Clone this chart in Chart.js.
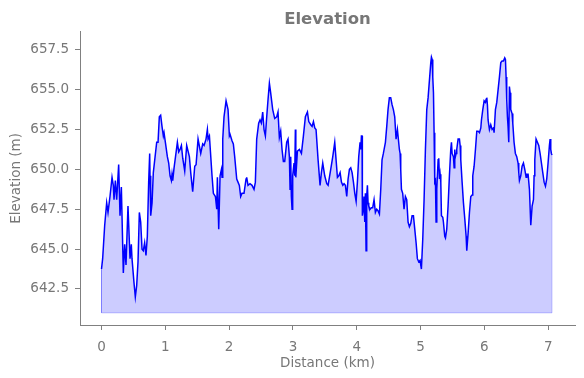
<!DOCTYPE html>
<html>
<head>
<meta charset="utf-8">
<script src="https://cdn.jsdelivr.net/npm/chart.js@4"></script>
<style>
  html, body { margin: 0; padding: 0; background: #fff; }
  #wrap { width: 584px; height: 378px; }
</style>
</head>
<body>
<div id="wrap"><canvas id="chart-elev" width="584" height="378"></canvas></div>
<script>
const DISTANCE_KM = [
  0.000, 0.018, 0.050, 0.081, 0.102, 0.133, 0.165, 0.185, 0.196, 0.217, 0.238, 0.269, 0.290, 0.311, 0.342, 0.363,
  0.384, 0.415, 0.447, 0.467, 0.478, 0.509, 0.530, 0.551, 0.572, 0.593, 0.614, 0.635, 0.655, 0.676, 0.697, 0.718,
  0.739, 0.755, 0.760, 0.771, 0.792, 0.812, 0.865, 0.886, 0.906, 0.927, 0.948, 0.969,
  0.980, 1.001, 1.032, 1.053, 1.074, 1.095, 1.105, 1.116, 1.137, 1.189, 1.210, 1.231, 1.252, 1.273, 1.304, 1.335,
  1.377, 1.398, 1.429, 1.461, 1.482, 1.513, 1.555, 1.586, 1.607, 1.638, 1.659, 1.670, 1.691, 1.732, 1.753, 1.785,
  1.806, 1.816, 1.826, 1.837, 1.858, 1.879, 1.889, 1.900, 1.920, 1.952, 1.983, 2.004,
  2.014, 2.045, 2.066, 2.087, 2.119, 2.139, 2.160, 2.181, 2.202, 2.233, 2.265, 2.275, 2.296, 2.327, 2.359, 2.390,
  2.411, 2.432, 2.463, 2.484, 2.505, 2.526, 2.547, 2.568, 2.589, 2.610, 2.631, 2.651, 2.683, 2.714, 2.746, 2.766,
  2.787, 2.808, 2.829, 2.850, 2.871, 2.902, 2.923, 2.944, 2.955, 2.965, 2.975, 2.986, 2.996, 3.017, 3.028, 3.038,
  3.045, 3.070, 3.101, 3.133, 3.164, 3.195, 3.227, 3.248, 3.279, 3.300, 3.321, 3.342, 3.362, 3.394, 3.425, 3.446,
  3.467, 3.498, 3.530, 3.551, 3.592, 3.624, 3.655, 3.676, 3.697, 3.718, 3.739, 3.760, 3.781, 3.801, 3.822, 3.843,
  3.864, 3.885, 3.906, 3.927, 3.948, 3.969, 3.990, 4.010, 4.031, 4.052, 4.063, 4.073,
  4.083, 4.088, 4.104, 4.114, 4.125, 4.135, 4.146, 4.156, 4.167, 4.177, 4.188, 4.208, 4.229, 4.250, 4.271, 4.292,
  4.313, 4.334, 4.355, 4.376, 4.396, 4.417, 4.449, 4.470, 4.490, 4.511, 4.532, 4.553, 4.574, 4.595, 4.616, 4.637,
  4.647, 4.668, 4.679, 4.689, 4.700, 4.720, 4.741, 4.762, 4.783, 4.804, 4.825, 4.846, 4.867, 4.888, 4.909, 4.930,
  4.950, 4.971, 4.992, 5.013, 5.034, 5.055, 5.076, 5.097,
  5.118, 5.139, 5.160, 5.170, 5.181, 5.191, 5.202, 5.212, 5.222, 5.233, 5.243, 5.254, 5.275, 5.285, 5.296, 5.306,
  5.317, 5.327, 5.348, 5.358, 5.379, 5.390, 5.410, 5.431, 5.452, 5.473, 5.484, 5.494, 5.515, 5.526, 5.536, 5.546,
  5.557, 5.567, 5.588, 5.609, 5.620, 5.630, 5.651, 5.672, 5.693, 5.714, 5.724, 5.745, 5.766, 5.787, 5.808, 5.818,
  5.839, 5.860, 5.881, 5.902, 5.923, 5.944, 5.954, 5.975, 5.996, 6.017, 6.027, 6.038, 6.048, 6.058, 6.079, 6.100,
  6.121, 6.142,
  6.152, 6.173, 6.194, 6.215, 6.236, 6.257, 6.277, 6.298, 6.319, 6.330, 6.340, 6.350, 6.361, 6.371, 6.382, 6.392,
  6.403, 6.413, 6.434, 6.445, 6.465, 6.486, 6.507, 6.528, 6.539, 6.549, 6.570, 6.591, 6.612, 6.633, 6.654, 6.664,
  6.685, 6.706, 6.727, 6.748, 6.769, 6.779, 6.790, 6.810, 6.831, 6.852, 6.873, 6.894, 6.915, 6.936, 6.957, 6.977,
  6.998, 7.019, 7.030, 7.040, 7.050, 7.060
];

const ELEVATION_M = [
  643.75, 644.4, 646.5, 647.9, 647.3, 648.3, 649.5, 649.0, 648.1, 649.3, 648.1, 650.3, 647.1, 648.9, 643.5, 645.3,
  644.0, 647.7, 644.4, 645.3, 644.4, 642.9, 642.0, 642.7, 644.2, 647.3, 646.7, 645.0, 644.9, 645.4, 644.6, 645.8,
  649.2, 651.0, 649.6, 647.1, 647.9, 649.8, 651.7, 651.7, 653.3, 653.4, 652.7, 652.1,
  652.3, 651.7, 650.8, 650.4, 649.6, 649.3, 649.7, 649.3, 650.1, 651.7, 651.1, 651.25, 651.5, 650.7, 649.9, 651.5,
  650.8, 649.8, 648.6, 650.2, 650.3, 651.9, 651.0, 651.6, 651.5, 651.9, 652.5, 651.9, 652.1, 649.6, 648.5, 648.3,
  647.5, 649.5, 647.9, 646.25, 649.6, 650.0, 649.5, 651.9, 653.3, 654.3, 653.75, 652.1,
  652.2, 651.8, 651.6, 650.8, 649.4, 649.2, 649.0, 648.3, 648.5, 648.5, 649.4, 649.5, 649.0, 649.1, 649.0, 648.75,
  649.2, 651.9, 652.9, 653.1, 652.9, 653.6, 652.5, 652.1, 653.3, 654.4, 655.4, 654.8, 653.75, 653.2, 653.3, 653.6,
  652.0, 652.4, 651.25, 650.5, 650.5, 651.7, 651.9, 650.8, 648.75, 650.8, 648.3, 647.5, 649.6, 650.4, 649.6, 652.5,
  649.5, 651.15, 651.25, 651.0, 652.1, 653.3, 653.6, 653.0, 652.8, 652.7, 653.0, 652.6, 652.5, 650.6, 649.0, 649.8,
  650.4, 649.6, 649.1, 649.0, 650.0, 650.8, 651.7, 650.6, 649.5, 649.6, 649.8, 649.2, 649.0, 649.1, 649.0, 648.3,
  649.4, 650.0, 650.1, 649.8, 649.2, 648.5, 648.0, 649.2, 650.8, 651.7, 651.25, 652.1,
  652.1, 647.1, 647.5, 648.3, 646.7, 648.5, 644.9, 648.3, 649.0, 647.9, 647.7, 647.5, 647.6, 647.6, 648.1, 647.3,
  647.5, 647.4, 647.2, 648.75, 650.6, 651.0, 651.7, 652.7, 653.75, 654.5, 654.5, 654.06, 653.75, 653.3, 651.9, 652.5,
  652.1, 651.25, 651.0, 650.0, 648.75, 648.5, 647.5, 648.3, 648.1, 646.7, 646.4, 646.6, 647.1, 647.1, 646.25, 645.4,
  644.4, 644.2, 644.3, 643.75, 645.6, 648.1, 651.25, 653.75,
  654.5, 655.6, 656.7, 657.04, 656.9, 655.8, 654.8, 652.3, 649.2, 649.3, 646.7, 648.75, 650.6, 650.7, 649.4, 649.7,
  649.2, 647.1, 647.0, 646.7, 645.8, 645.7, 646.25, 647.7, 649.6, 651.25, 651.7, 651.0, 650.8, 650.1, 651.25, 650.8,
  651.0, 651.25, 651.9, 651.9, 651.5, 650.6, 649.2, 647.9, 646.9, 645.8, 644.9, 646.0, 647.3, 648.3, 648.4, 649.6,
  650.2, 651.25, 652.4, 652.4, 652.3, 652.6, 653.1, 653.75, 654.3, 654.2, 654.4, 654.5, 654.0, 653.1, 652.5, 652.8,
  652.5, 652.6,
  652.3, 653.75, 654.2, 655.0, 655.8, 656.7, 656.8, 656.8, 657.0, 656.9, 655.8, 654.4, 653.3, 652.7, 651.7, 655.2,
  654.8, 653.75, 653.5, 652.9, 651.7, 651.0, 650.8, 650.4, 649.8, 649.3, 649.6, 650.2, 650.4, 650.0, 649.5, 649.7,
  649.7, 648.75, 646.5, 647.7, 648.1, 649.6, 650.6, 651.9, 651.7, 651.5, 651.0, 650.4, 649.8, 649.2, 648.95, 649.4,
  650.4, 651.5, 651.9, 651.25, 651.0, 650.9
];

const X_TICKS = [0, 1, 2, 3, 4, 5, 6, 7];
const Y_TICKS = [642.5, 645.0, 647.5, 650.0, 652.5, 655.0, 657.5];
const FILL_BASE = 641;

const TEXT_COLOR = '#777777';
const AXIS_COLOR = '#808080';
const FONT = 'DejaVu Sans';

const points = DISTANCE_KM.map((d, i) => ({ x: d, y: ELEVATION_M[i] }));
const last = DISTANCE_KM.length - 1;
// outline of the filled area (sides and base), like the polygon edge
const outline = [
  { x: DISTANCE_KM[0], y: ELEVATION_M[0] },
  { x: DISTANCE_KM[0], y: FILL_BASE },
  { x: DISTANCE_KM[last], y: FILL_BASE },
  { x: DISTANCE_KM[last], y: ELEVATION_M[last] },
];

const ctx = document.getElementById('chart-elev').getContext('2d');
new Chart(ctx, {
  type: 'line',
  data: {
    datasets: [
      {
        label: 'Elevation',
        data: points,
        borderColor: '#0000ff',
        borderWidth: 1.5,
        backgroundColor: 'rgba(0,0,255,0.2)',
        fill: { value: FILL_BASE },
        pointRadius: 0,
        tension: 0,
        order: 2,
      },
      {
        label: 'edge',
        data: outline,
        borderColor: 'rgba(0,0,255,0.2)',
        borderWidth: 1,
        fill: false,
        pointRadius: 0,
        tension: 0,
        order: 1,
      },
    ],
  },
  options: {
    responsive: false,
    animation: false,
    layout: { padding: { top: 0, right: 9, bottom: 0, left: 0 } },
    plugins: {
      legend: { display: false },
      tooltip: { enabled: false },
      title: {
        display: true,
        text: 'Elevation',
        color: TEXT_COLOR,
        fullSize: false,
        font: { family: FONT, size: 16.5, weight: 'bold' },
        padding: { top: 10, bottom: 2 },
      },
    },
    scales: {
      x: {
        type: 'linear',
        min: -0.337, max: 7.42,
        afterBuildTicks: s => { s.ticks = X_TICKS.map(v => ({ value: v })); },
        afterFit: s => { s.height = 53; },
        grid: { drawOnChartArea: false, tickLength: 5, color: AXIS_COLOR },
        border: { color: AXIS_COLOR, width: 1 },
        ticks: { color: TEXT_COLOR, font: { family: FONT, size: 13.5 }, padding: 9, maxRotation: 0, callback: v => String(v) },
        title: { display: true, text: 'Distance (km)', color: TEXT_COLOR, font: { family: FONT, size: 13.5 }, padding: { top: 0, bottom: 6 } },
      },
      y: {
        min: 640.24, max: 658.63,
        afterBuildTicks: s => { s.ticks = Y_TICKS.map(v => ({ value: v })); },
        afterFit: s => { s.width = 80; },
        grid: { drawOnChartArea: false, tickLength: 5, color: AXIS_COLOR },
        border: { color: AXIS_COLOR, width: 1 },
        ticks: { color: TEXT_COLOR, font: { family: FONT, size: 13.5 }, padding: 6, callback: v => v.toFixed(1) },
        title: { display: true, text: 'Elevation (m)', color: TEXT_COLOR, font: { family: FONT, size: 13.5 }, padding: { top: 8, bottom: 0 } },
      },
    },
  },
});
</script>
</body>
</html>
